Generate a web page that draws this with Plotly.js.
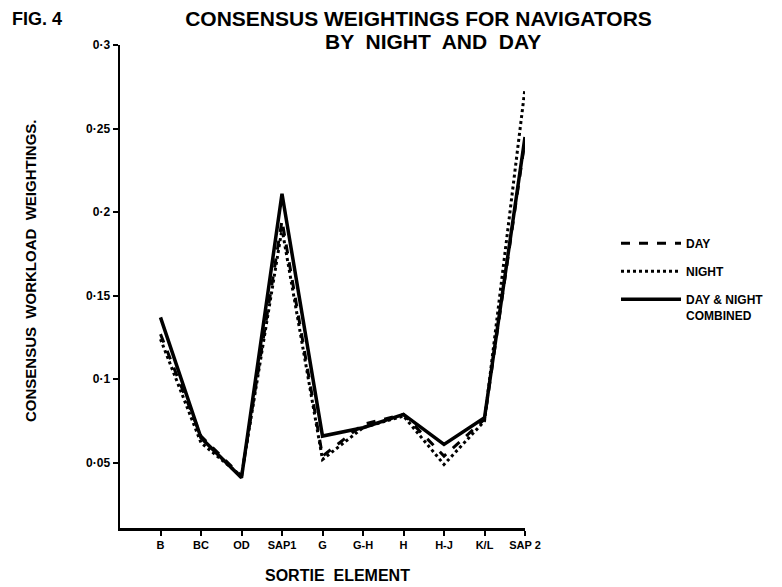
<!DOCTYPE html>
<html>
<head>
<meta charset="utf-8">
<script src="https://cdn.plot.ly/plotly-3.0.1.min.js"></script>
<style>html,body{margin:0;padding:0;background:#fff;}#chart{width:782px;height:587px;}</style>
</head>
<body>
<div id="chart"></div>
<script>
const categories = ['B', 'BC', 'OD', 'SAP1', 'G', 'G-H', 'H', 'H-J', 'K/L', 'SAP 2'];
const dayValues = [0.127, 0.066, 0.042, 0.195, 0.054, 0.073, 0.079, 0.054, 0.076, 0.243];
const nightValues = [0.124, 0.062, 0.042, 0.190, 0.052, 0.071, 0.078, 0.049, 0.075, 0.274];
const combinedValues = [0.137, 0.065, 0.041, 0.211, 0.066, 0.071, 0.079, 0.061, 0.077, 0.245];
const seriesNames = ['DAY', 'NIGHT', 'DAY & NIGHT<br>COMBINED'];
const yTickValues = [0.05, 0.1, 0.15, 0.2, 0.25, 0.3];
const yTickLabels = ['0·05', '0·1', '0·15', '0·2', '0·25', '0·3'];

const FONT = 'Liberation Sans, Arial, sans-serif';
const xIdx = categories.map((c, i) => i);

const traces = [
  {x: xIdx, y: dayValues, name: seriesNames[0], mode: 'lines', legendgroup: 'a',
   line: {color: '#000', width: 3, dash: 'dash'}},
  {x: xIdx, y: nightValues, name: seriesNames[1], mode: 'lines', legendgroup: 'b',
   line: {color: '#000', width: 3, dash: 'dot'}},
  {x: xIdx, y: combinedValues, name: seriesNames[2], mode: 'lines', legendgroup: 'c',
   line: {color: '#000', width: 3.5}}
];

const L = 120, R = 257, T = 45, B = 59;
const W = 782 - L - R, H = 587 - T - B;
const px = v => (v - L) / W;
const py = v => (587 - B - v) / H;

const layout = {
  width: 782, height: 587,
  margin: {l: L, r: R, t: T, b: B, pad: 0},
  paper_bgcolor: '#fff', plot_bgcolor: '#fff',
  font: {family: FONT, color: '#000', weight: 'bold'},
  showlegend: true,
  title: {
    text: 'CONSENSUS WEIGHTINGS FOR NAVIGATORS',
    xref: 'container', yref: 'container',
    x: 418.5 / 782, xanchor: 'center', y: 1 - 19 / 587, yanchor: 'middle',
    font: {family: FONT, size: 21, color: '#000', weight: 'bold'}
  },
  xaxis: {
    range: [-1, 9], tickmode: 'array', tickvals: xIdx, ticktext: categories,
    showgrid: false, zeroline: false, showline: true, linecolor: '#000', linewidth: 2.5,
    ticks: 'outside', ticklen: 5, tickwidth: 2, tickcolor: '#000',
    tickfont: {family: FONT, size: 11, color: '#000', weight: 'bold'},
    fixedrange: true
  },
  yaxis: {
    range: [0.011, 0.3], tickmode: 'array', tickvals: yTickValues, ticktext: yTickLabels,
    showgrid: false, zeroline: false, showline: true, linecolor: '#000', linewidth: 2.5,
    ticks: 'outside', ticklen: 5, tickwidth: 2, tickcolor: '#000',
    tickfont: {family: FONT, size: 12, color: '#000', weight: 'bold'},
    fixedrange: true
  },
  legend: {
    x: px(616), xanchor: 'left', y: py(229), yanchor: 'top',
    font: {family: FONT, size: 12, color: '#000', weight: 'bold'},
    bgcolor: 'rgba(0,0,0,0)', borderwidth: 0,
    itemwidth: 60, tracegroupgap: 9, valign: 'top', traceorder: 'grouped'
  },
  annotations: [
    {text: 'FIG. 4', xref: 'paper', yref: 'paper', x: px(10), y: py(19),
     xanchor: 'left', yanchor: 'middle', showarrow: false,
     font: {family: FONT, size: 18, color: '#000', weight: 'bold'}},
    {text: 'BY  NIGHT  AND  DAY', xref: 'paper', yref: 'paper', x: px(433), y: py(41),
     xanchor: 'center', yanchor: 'middle', showarrow: false,
     font: {family: FONT, size: 21, color: '#000', weight: 'bold'}},
    {text: 'CONSENSUS  WORKLOAD  WEIGHTINGS.', xref: 'paper', yref: 'paper', x: px(30), y: py(271),
     xanchor: 'center', yanchor: 'middle', textangle: -90, showarrow: false,
     font: {family: FONT, size: 15, color: '#000', weight: 'bold'}},
    {text: 'SORTIE  ELEMENT', xref: 'paper', yref: 'paper', x: px(337), y: py(575),
     xanchor: 'center', yanchor: 'middle', showarrow: false,
     font: {family: FONT, size: 16, color: '#000', weight: 'bold'}}
  ]
};

Plotly.newPlot('chart', traces, layout, {staticPlot: true, displayModeBar: false});
</script>
</body>
</html>
